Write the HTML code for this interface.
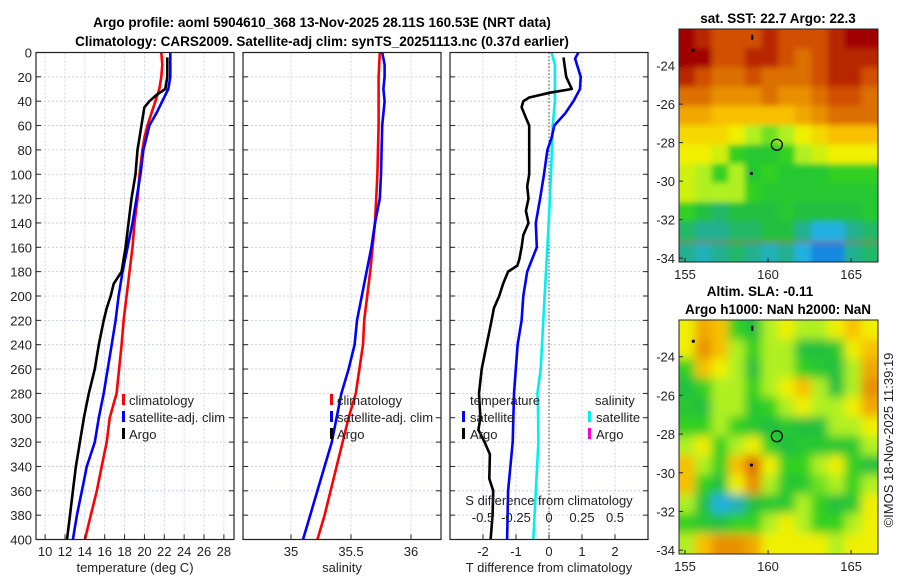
<!DOCTYPE html>
<html><head><meta charset="utf-8"><style>
html,body{margin:0;padding:0;background:#fff;}
svg{display:block;font-family:"Liberation Sans",sans-serif;}
</style></head><body>
<svg id="fig" width="900" height="580" viewBox="0 0 900 580" xmlns="http://www.w3.org/2000/svg">
<defs>
<filter id="blurB" x="0" y="0" width="1" height="1"><feGaussianBlur stdDeviation="5"/></filter>
<filter id="blurT" x="0" y="0" width="1" height="1"><feGaussianBlur stdDeviation="3"/></filter>
<clipPath id="clipTop"><rect x="679" y="29" width="199" height="233"/></clipPath>
<clipPath id="clipBot"><rect x="679" y="320" width="199" height="234"/></clipPath>
</defs>
<text x="322" y="27" text-anchor="middle" font-size="13.5" font-weight="bold">Argo profile: aoml 5904610_368 13-Nov-2025 28.11S 160.53E (NRT data)</text>
<text x="322" y="46" text-anchor="middle" font-size="13.5" font-weight="bold">Climatology: CARS2009. Satellite-adj clim: synTS_20251113.nc (0.37d earlier)</text>
<g id="panels"></g>
<g id="maps"></g>
<text transform="translate(893,440) rotate(-90)" text-anchor="middle" font-size="13" fill="#222">©IMOS 18-Nov-2025 11:39:19</text>
</svg>
<script>
// ---- profile data ----
const tClimDepth = [0,10,20,30,40,50,60,70,80,100,120,140,160,180,200,220,240,280,300,320,340,360,380,400];
const tClimVal   = [21.7,21.8,21.7,21.5,21.1,20.7,20.3,20.0,19.8,19.5,19.3,19.0,18.8,18.5,18.2,17.9,17.7,17.2,16.5,16.2,15.7,15.2,14.6,14.0];
const tSatDepth = [0,20,30,40,50,60,80,100,120,140,160,180,200,220,240,260,280,300,320,340,360,380,400];
const tSatVal   = [22.6,22.6,22.4,21.8,21.2,20.5,19.9,19.6,19.2,18.8,18.3,17.8,17.4,17.1,16.7,16.3,15.9,15.4,15.0,14.2,13.7,13.2,12.8];
const tArgoDepth = [4,20,30,35,40,45,55,70,80,100,120,140,160,180,190,200,210,220,240,260,280,300,320,340,360,380,400];
const tArgoVal   = [22.3,22.3,22.1,21.2,20.5,20.0,19.8,19.5,19.3,19.1,18.7,18.4,18.1,17.7,16.9,16.6,16.2,15.9,15.4,15.0,14.4,13.9,13.5,13.1,12.8,12.5,12.2];
const sClimDepth = [0,20,60,100,140,160,180,220,240,280,300,340,380,400];
const sClimVal   = [35.74,35.73,35.73,35.72,35.70,35.68,35.66,35.61,35.60,35.54,35.48,35.38,35.28,35.22];
const sSatDepth = [0,10,20,30,40,60,100,120,140,160,180,200,220,240,260,280,300,320,340,360,380,400];
const sSatVal   = [35.76,35.78,35.78,35.77,35.78,35.76,35.75,35.74,35.70,35.67,35.63,35.59,35.55,35.53,35.48,35.42,35.38,35.34,35.28,35.22,35.16,35.10];
const dArgoDepth = [4,20,30,33,37,40,45,55,60,80,100,110,120,130,140,150,160,170,175,180,190,200,210,220,240,260,280,300,310,320,330,350,360,380,400];
const dArgoVal   = [0.44,0.52,0.69,0.03,-0.6,-0.78,-0.83,-0.68,-0.6,-0.6,-0.6,-0.66,-0.62,-0.7,-0.62,-0.78,-0.83,-0.9,-0.96,-1.24,-1.39,-1.51,-1.67,-1.74,-1.89,-2.04,-2.12,-2.08,-2.14,-1.95,-1.79,-1.81,-1.69,-1.71,-1.77];
const dSatDepth = [0,5,20,30,40,50,60,70,80,100,120,140,160,180,200,220,240,280,320,360,400];
const dSatVal   = [0.89,0.79,0.96,0.94,0.74,0.49,0.16,0.08,-0.05,-0.15,-0.27,-0.40,-0.37,-0.66,-0.78,-0.83,-0.95,-1.06,-1.10,-1.24,-1.27];
const dSalDepth = [0,10,40,60,100,140,180,220,260,280,290,320,360,400];
const dSalVal   = [0.02,0.045,0.045,0.028,0.015,-0.002,-0.023,-0.043,-0.063,-0.088,-0.083,-0.08,-0.10,-0.119];
const depthTicks = [0,20,40,60,80,100,120,140,160,180,200,220,240,260,280,300,320,340,360,380,400];
const tTicks = [10,12,14,16,18,20,22,24,26,28];
const sTicks = [35,35.5,36];
const sTickLabels = ["35","35.5","36"];
const dTicks = [-2,-1,0,1,2];
const sdTicks = [-0.5,-0.25,0,0.25,0.5];
const sdTickLabels = ["-0.5","-0.25","0","0.25","0.5"];

// ---- map data (palette index 0=blue .. 10=dark red) ----
const mapLons = [155.1,156.1,157.1,158.1,159.1,160.1,161.1,162.1,163.1,164.1,165.1,166.1];
const mapLats = [-22.6,-23.6,-24.6,-25.6,-26.6,-27.6,-28.6,-29.6,-30.6,-31.6,-32.6,-33.7];
const sstGrid = [
[10,9.5,9,9,9,9.5,9,9,9,9.5,10,10],
[10,10,9,9,9.5,9.5,9,8.5,9,9.5,9.5,9.5],
[9.5,9,8.5,8.5,9,8.5,8.5,8.5,9,9.5,9.5,9],
[8.5,8.5,8,8,8,8.5,8,8,8.5,9,9,8.5],
[7.5,7.5,7,7,7,7,7,7.5,8,8.5,8.5,8.5],
[6.5,6.5,6.5,6,5,4.5,5,6,6.5,7,7,7],
[6,6,5.5,4,3.5,3.5,4,5,5.5,6,6,6],
[5.5,5,4,5,3.5,4,3.5,3.5,3.5,4,4,4],
[5.5,5,5,5,4,3.5,3.5,3.5,3.5,3.5,3.5,3.5],
[4,3,2.5,3,3,3,3.5,3,3,3,3,3.5],
[2.5,2,2,2.5,2.5,3,3,2,1,1,2,2.5],
[2,1.5,2,2.5,2,1.5,2,1,0.5,0.5,2,2.5]];
const slaGrid = [
[6,7.5,7,4,3,5,6,5,5,6,7,6],
[6,8,7,5,4,5,5,3,3,3.5,6,7],
[4,7,6,5,3,5,5,4,3.5,3,5,7.5],
[3,4,5,5,4,5,6,7,5,3,5,8],
[3.5,3,5,5,3.5,4,5,6,5,5,6,7.5],
[4,4,5,4,3.5,3,3.5,3,3,5,5,6],
[5,6,4,5,6,4,3,3.5,3.5,3.5,3.5,5],
[7,5,4,7,8.5,6,4,4,5,6,4,3],
[7,4,3,6,8,5,3.5,3.5,4.5,5,4,5],
[5,3,1,1.5,3,3.5,3.5,5,4,3,3.5,6],
[4,3.5,3,4,4,5,6,5,4,4,5,6],
[5,7,8,8,7.5,6,6,6,6,5,6,6]];
const mapLonTicks = [155,160,165];
const mapLatTicks = [-24,-26,-28,-30,-32,-34];
const floatLon = 160.53, floatLat = -28.11;

const NS = "http://www.w3.org/2000/svg";
function mk(tag, attrs, parent){const e=document.createElementNS(NS,tag);for(const k in attrs)e.setAttribute(k,attrs[k]);if(parent)parent.appendChild(e);return e;}
const Y0=52.5, YK=1.2175;
const yD = d => Y0 + d*YK;
const panelsG = document.getElementById('panels');

function panel(name, x0, x1, vmin, vmax){
  const xf = v => x0 + (v-vmin)/(vmax-vmin)*(x1-x0);
  const g = mk('g',{},panelsG);
  
  
  return {g, xf, x0, x1};
}
function grid(p, xticks){
  depthTicks.forEach(d=>{
    const l=mk('line',{x1:p.x0,x2:p.x1,y1:yD(d),y2:yD(d),stroke:'#c3c8e6','stroke-width':0.8,'stroke-dasharray':'2,2'},p.g);
    
    
    mk('line',{x1:p.x0,x2:p.x0+5,y1:yD(d),y2:yD(d),stroke:'#222','stroke-width':1},p.g);
    mk('line',{x1:p.x1-5,x2:p.x1,y1:yD(d),y2:yD(d),stroke:'#222','stroke-width':1},p.g);
  });
  xticks.forEach(v=>{
    const l=mk('line',{x1:p.xf(v),x2:p.xf(v),y1:Y0,y2:yD(400),stroke:'#c3c8e6','stroke-width':0.8,'stroke-dasharray':'2,2'},p.g);
    
    
  });
}
function frame(p){
  const r=mk('rect',{x:p.x0,y:Y0,width:p.x1-p.x0,height:yD(400)-Y0,fill:'none',stroke:'#222','stroke-width':1.2},p.g);
  
  
}
function line(p, depths, vals, color, name, w){
  const pts = depths.map((d,i)=>p.xf(vals[i]).toFixed(1)+','+yD(d).toFixed(1)).join(' ');
  const pl = mk('polyline',{points:pts,fill:'none',stroke:color,'stroke-width':w||2.6,'stroke-linejoin':'round'},p.g);
  
  
}
function text(g, x, y, s, anchor, size, name, fill){
  const t=mk('text',{x:x,y:y,'text-anchor':anchor||'start','font-size':size||13,fill:fill||'#222'},g);
  t.textContent=s;
  
  
  return t;
}
function xlabels(p, ticks, labels){
  ticks.forEach((v,i)=>{
    mk('line',{x1:p.xf(v),x2:p.xf(v),y1:yD(400),y2:yD(400)-5,stroke:'#222'},p.g);
    text(p.g,p.xf(v),556,labels?labels[i]:String(v),'middle',13,'x-tick-label');
  });
}
function legendMark(g,x,y,color){
  const r=mk('rect',{x:x,y:y-11,width:3,height:11,fill:color},g);
  
  
}

// Panel 1 temperature
const p1 = panel('temperature-panel',36,234,9.08,29.02);
grid(p1,tTicks);
line(p1,tClimDepth,tClimVal,'#ff0000','temp-climatology-line');
line(p1,tSatDepth,tSatVal,'#0000ff','temp-satellite-adj-line');
line(p1,tArgoDepth,tArgoVal,'#000000','temp-argo-line');
frame(p1);
xlabels(p1,tTicks);
depthTicks.forEach(d=>text(p1.g,32,yD(d)+5,String(d),'end',13,'depth-tick-label'));
text(p1.g,135,572,'temperature (deg C)','middle',13,'x-axis-title-temperature');
legendMark(p1.g,122,405,'#ff0000');text(p1.g,129,405,'climatology','start',13,'legend-climatology');
legendMark(p1.g,122,422,'#0000ff');text(p1.g,129,422,'satellite-adj. clim','start',13,'legend-satellite-adj');
legendMark(p1.g,122,439,'#000000');text(p1.g,129,439,'Argo','start',13,'legend-argo');

// Panel 2 salinity
const p2 = panel('salinity-panel',243,441,34.6,36.25);
grid(p2,sTicks);
line(p2,sClimDepth,sClimVal,'#ff0000','sal-climatology-line');
line(p2,sSatDepth,sSatVal,'#0000ff','sal-satellite-adj-line');
frame(p2);
xlabels(p2,sTicks,sTickLabels);
text(p2.g,342,572,'salinity','middle',13,'x-axis-title-salinity');
legendMark(p2.g,330,405,'#ff0000');text(p2.g,337,405,'climatology','start',13,'legend-climatology');
legendMark(p2.g,330,422,'#0000ff');text(p2.g,337,422,'satellite-adj. clim','start',13,'legend-satellite-adj');
legendMark(p2.g,330,439,'#000000');text(p2.g,337,439,'Argo','start',13,'legend-argo');

// Panel 3 differences
const p3 = panel('difference-panel',450,648,-3.0,3.0);
grid(p3,dTicks);
const zl=mk('line',{x1:p3.xf(0),x2:p3.xf(0),y1:Y0,y2:yD(400),stroke:'#444','stroke-width':1,'stroke-dasharray':'1.5,2'},p3.g);


const sdx = v => p3.xf(0) + v*132;
const salPts = dSalDepth.map((d,i)=>sdx(dSalVal[i]).toFixed(1)+','+yD(d).toFixed(1)).join(' ');
const sp=mk('polyline',{points:salPts,fill:'none',stroke:'#00f0f0','stroke-width':2.6},p3.g);


line(p3,dSatDepth,dSatVal,'#0000ff','temp-diff-satellite-line');
line(p3,dArgoDepth,dArgoVal,'#000000','temp-diff-argo-line');
frame(p3);
xlabels(p3,dTicks);
text(p3.g,549,572,'T difference from climatology','middle',13,'x-axis-title-t-diff');
text(p3.g,549,505,'S difference from climatology','middle',13,'s-axis-title');
sdTicks.forEach((v,i)=>text(p3.g,sdx(v),522,sdTickLabels[i],'middle',13,'s-tick-label'));
text(p3.g,470,405,'temperature','start',13,'legend-title-temperature');
text(p3.g,595,405,'salinity','start',13,'legend-title-salinity');
legendMark(p3.g,462,422,'#0000ff');text(p3.g,470,422,'satellite','start',13,'legend-t-satellite');
legendMark(p3.g,462,439,'#000000');text(p3.g,470,439,'Argo','start',13,'legend-t-argo');
legendMark(p3.g,588,422,'#00f0f0');text(p3.g,596,422,'satellite','start',13,'legend-s-satellite');
legendMark(p3.g,588,439,'#ff00cc');text(p3.g,596,439,'Argo','start',13,'legend-s-argo');

// ---- maps ----
const pal=[[16,96,224],[32,176,224],[32,176,144],[32,192,64],[48,208,32],[176,240,32],[240,240,0],[248,192,0],[232,144,0],[208,80,0],[160,0,0]];
function col(v){v=Math.max(0,Math.min(10,v));const i=Math.min(9,Math.floor(v)),f=v-i;const a=pal[i],b=pal[i+1];
  return 'rgb('+a.map((c,k)=>Math.round(c+(b[k]-c)*f)).join(',')+')';}
const mapsG=document.getElementById('maps');
function drawMap(name, gridVals, yTop, yBot, clip, filt){
  const x0=679,x1=878, lonMin=154.64, lonMax=166.62, latMax=-22.1, latMin=-34.2;
  const mx = lon => x0+(lon-lonMin)/(lonMax-lonMin)*(x1-x0);
  const my = lat => yTop+(latMax-lat)/(latMax-latMin)*(yBot-yTop);
  const g=mk('g',{},mapsG);
  
  
  const cg=mk('g',{'clip-path':'url(#'+clip+')'},g);
  const ig=mk('g',{filter:'url(#'+filt+')'},cg);
  const cw=(x1-x0)/mapLons.length, ch=(yBot-yTop)/mapLats.length;
  mk('rect',{x:x0-20,y:yTop-20,width:240,height:yBot-yTop+40,fill:col(gridVals[0][0])},ig);
  gridVals.forEach((row,r)=>row.forEach((v,c)=>{
    const cell=mk('rect',{x:(mx(mapLons[c])-cw/2-(c===0?15:0)).toFixed(1),y:(my(mapLats[r])-ch/2-(r===0?15:0)).toFixed(1),width:(cw+0.6+(c===0||c===11?15:0)).toFixed(1),height:(ch+0.6+(r===0||r===11?15:0)).toFixed(1),fill:col(v)},ig);
    
    
  }));
  const fl=mk('circle',{cx:mx(floatLon),cy:my(floatLat),r:5.5,fill:'none',stroke:'#000','stroke-width':1.3},g);
  
  
  [[155.5,-23.2],[159.0,-29.6]].forEach(p=>mk('circle',{cx:mx(p[0]),cy:my(p[1]),r:1.6,fill:'#000'},g));
  mk('rect',{x:mx(159.05)-1,y:my(-22.4),width:2,height:5,fill:'#000'},g);
  const fr=mk('rect',{x:x0,y:yTop,width:x1-x0,height:yBot-yTop,fill:'none',stroke:'#222','stroke-width':1},g);
  
  
  mapLatTicks.forEach(l=>{mk('line',{x1:x0,x2:x0+4,y1:my(l),y2:my(l),stroke:'#222'},g);
    text(g,x0-4,my(l)+5,String(l),'end',13,'map-lat-label');});
  mapLonTicks.forEach(l=>{mk('line',{x1:mx(l),x2:mx(l),y1:yBot,y2:yBot-4,stroke:'#222'},g);
    text(g,mx(l),yBot+17,String(l),'middle',13,'map-lon-label');});
}
drawMap('sst-map',sstGrid,29,262,'clipTop','blurT');
drawMap('sla-map',slaGrid,320,554,'clipBot','blurB');
text(mapsG,778,23,'sat. SST: 22.7 Argo: 22.3','middle',13.5,'sst-map-title','#000').setAttribute('font-weight','bold');
text(mapsG,760,296,'Altim. SLA: -0.11','middle',13.5,'sla-map-title','#000').setAttribute('font-weight','bold');
text(mapsG,778,314,'Argo h1000: NaN h2000: NaN','middle',13.5,'sla-map-subtitle','#000').setAttribute('font-weight','bold');
</script>
</body></html>
